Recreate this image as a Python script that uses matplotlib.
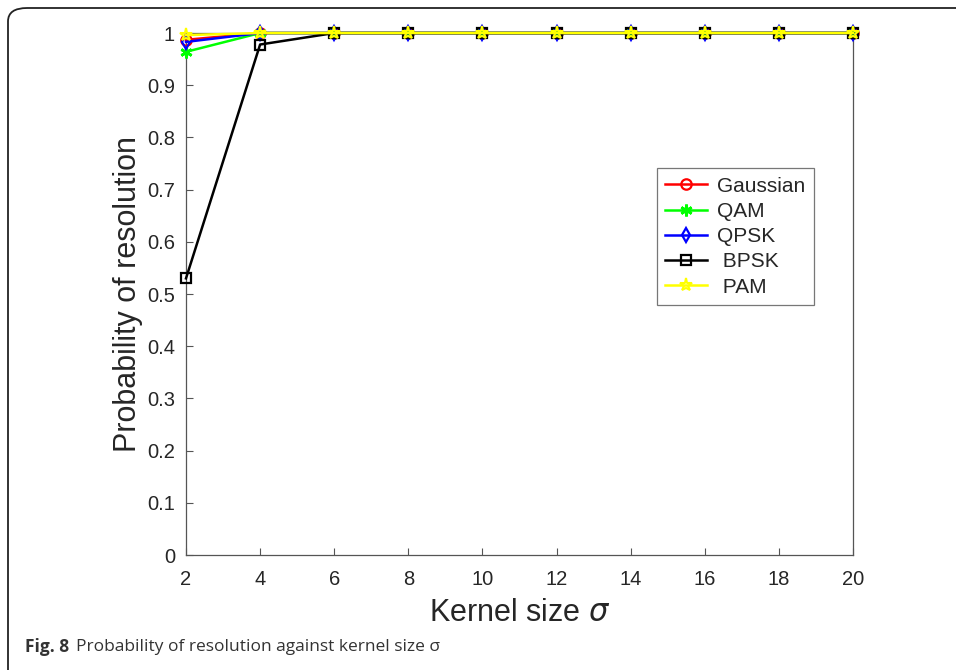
import matplotlib.pyplot as plt
from matplotlib.patches import FancyBboxPatch

plt.rcParams['font.family'] = ['Liberation Sans', 'DejaVu Sans']

# kernel sizes and probability of resolution for each signal type
sigma = [2, 4, 6, 8, 10, 12, 14, 16, 18, 20]
gaussian = [0.987, 1, 1, 1, 1, 1, 1, 1, 1, 1]
qam = [0.964, 1, 1, 1, 1, 1, 1, 1, 1, 1]
qpsk = [0.983, 1, 1, 1, 1, 1, 1, 1, 1, 1]
bpsk = [0.53, 0.978, 1, 1, 1, 1, 1, 1, 1, 1]
pam = [0.996, 1, 1, 1, 1, 1, 1, 1, 1, 1]

fig = plt.figure(figsize=(9.56, 6.70), dpi=100)
ax = fig.add_axes([186 / 956, 0.1716, 667 / 956, 0.7791])

lw = 1.8
ms = 7.5
common = dict(lw=lw, clip_on=False)
ax.plot(sigma, gaussian, color='red', marker='o', mfc='none', mew=1.6, ms=ms, label='Gaussian', **common)
ax.plot(sigma, qam, color='#00ff00', marker=(6, 2, 0), mew=2, ms=ms + 1, label='QAM', **common)
ax.plot(sigma, qpsk, color='blue', marker='d', mfc='none', mew=1.6, ms=ms, label='QPSK', **common)
ax.plot(sigma, bpsk, color='black', marker='s', mfc='none', mew=1.6, ms=ms - 1, label=' BPSK', **common)
ax.plot(sigma, pam, color='yellow', marker='*', mfc='none', mew=1.5, ms=ms + 2, label=' PAM', **common)

ax.set_xlim(2, 20)
ax.set_ylim(0, 1)
ax.set_xticks(sigma)
ax.set_yticks([i / 10 for i in range(11)])
ax.set_yticklabels(['0', '0.1', '0.2', '0.3', '0.4', '0.5', '0.6', '0.7', '0.8', '0.9', '1'])
ax.tick_params(direction='in', length=5, width=0.8, colors='#555555', labelcolor='#262626',
               labelsize=14.5, top=False, right=False)
ax.tick_params(axis='x', pad=11)
ax.tick_params(axis='y', pad=8)
for s in ax.spines.values():
    s.set_color('#555555')
    s.set_linewidth(0.9)
    s.set_zorder(0)

ax.set_xlabel('Kernel size $\\sigma$', fontsize=22, color='#262626', labelpad=6)
ax.set_ylabel('Probability of resolution', fontsize=22, color='#262626', labelpad=3)

leg = ax.legend(loc='upper left', bbox_to_anchor=(0.706, 0.741), borderaxespad=0,
                fontsize=15, frameon=True, fancybox=False, handlelength=2.0,
                handletextpad=0.5, labelspacing=0.3, borderpad=0.4)
leg.get_frame().set_edgecolor('#555555')
leg.get_frame().set_linewidth(0.9)
for t in leg.get_texts():
    t.set_color('#262626')

# rounded frame around the figure and caption
frame = FancyBboxPatch((8 / 956, -0.05), 1.2, 1 - 8 / 670 + 0.05,
                       boxstyle='round,pad=0,rounding_size=0.02',
                       transform=fig.transFigure, fill=False,
                       edgecolor='#222222', linewidth=1.3, clip_on=False)
fig.patches.append(frame)

fig.text(25 / 956, 1 - 647 / 670, 'Fig. 8', fontsize=12.5, fontweight='bold',
         color='#333333', va='center', family='Open Sans')
fig.text(76 / 956, 1 - 647 / 670, 'Probability of resolution against kernel size σ',
         fontsize=12.5, color='#333333', va='center', family='Open Sans')

fig.savefig('out.png', dpi=100)
